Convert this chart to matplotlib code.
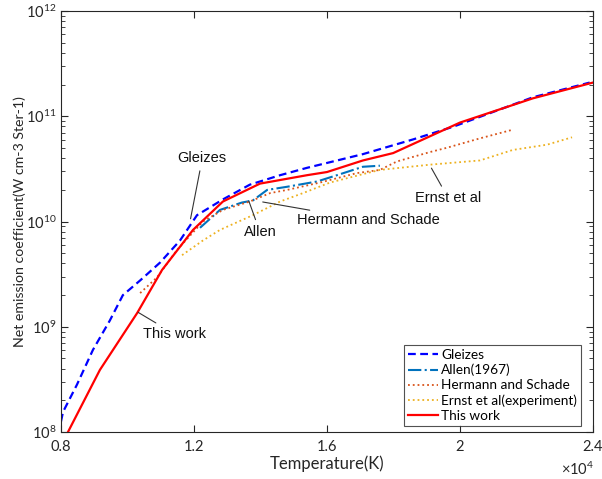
import matplotlib
matplotlib.use('Agg')

import matplotlib.pyplot as plt
import numpy as np
from matplotlib.ticker import LogLocator, NullFormatter

# data (temperature in K, log10 of emission coefficient)
gleizes_T = [8000, 8060, 8480, 8960, 9470, 9860, 10380, 10980, 11580, 12090, 12870,
             13680, 14590, 15400, 17080, 18590, 19790, 20390, 22190, 23900]
gleizes_lg = [8.10, 8.19, 8.45, 8.78, 9.06, 9.30, 9.44, 9.61, 9.82, 10.06, 10.21,
              10.35, 10.44, 10.51, 10.64, 10.78, 10.90, 10.97, 11.18, 11.32]

allen_T = [12180, 12780, 13440, 13770, 14200, 14800, 15700, 16300, 17080, 17590]
allen_lg = [9.94, 10.11, 10.18, 10.20, 10.30, 10.33, 10.38, 10.44, 10.52, 10.53]

hermann_T = [10380, 10890, 11490, 12270, 12870, 13680, 14290, 14800, 15790, 16900,
             17590, 18100, 19100, 19600, 20600, 21560]
hermann_lg = [9.32, 9.47, 9.73, 10.00, 10.11, 10.19, 10.27, 10.30, 10.37, 10.46,
              10.49, 10.57, 10.66, 10.70, 10.79, 10.87]

ernst_T = [11640, 12270, 12780, 13770, 14590, 15280, 16090, 17080, 17590, 19100,
           20600, 21590, 22620, 23370]
ernst_lg = [9.68, 9.82, 9.92, 10.06, 10.19, 10.27, 10.37, 10.45, 10.49, 10.54,
            10.58, 10.68, 10.73, 10.80]

work_T = [8210, 9170, 10290, 11040, 11970, 12870, 13985, 15400, 16000, 17080, 17990,
          20000, 22190, 24000]
work_lg = [8.00, 8.59, 9.13, 9.54, 9.92, 10.19, 10.36, 10.44, 10.47, 10.58, 10.65,
           10.94, 11.17, 11.32]

x_ticks = [8000, 12000, 16000, 20000, 24000]
x_tick_labels = ['0.8', '1.2', '1.6', '2', '2.4']

plt.rcParams['font.family'] = ['Lato', 'DejaVu Sans']
plt.rcParams['mathtext.fontset'] = 'custom'
plt.rcParams['mathtext.rm'] = 'Lato'
plt.rcParams['mathtext.it'] = 'Lato:italic'

fig = plt.figure(figsize=(6.02, 4.79), dpi=100)
ax = fig.add_axes([61 / 602, 1 - 432 / 479, 532 / 602, 421 / 479])

pw = lambda v: 10 ** np.array(v)
ax.plot(gleizes_T, pw(gleizes_lg), '--', color='#0000FF', lw=1.6, label='Gleizes', dashes=(3.5, 2))
ax.plot(allen_T, pw(allen_lg), '-.', color='#0072BD', lw=1.5, label='Allen(1967)')
ax.plot(hermann_T, pw(hermann_lg), ':', color='#D95319', lw=1.3, label='Hermann and Schade')
ax.plot(ernst_T, pw(ernst_lg), ':', color='#EDB120', lw=1.3, label='Ernst et al(experiment)')
ax.plot(work_T, pw(work_lg), '-', color='#FF0000', lw=1.6, label='This work')

ax.set_yscale('log')
ax.set_xlim(8000, 24000)
ax.set_ylim(1e8, 1e12)
ax.set_xticks(x_ticks)
ax.set_xticklabels(x_tick_labels)
ax.yaxis.set_minor_locator(LogLocator(base=10, subs=np.arange(2, 10), numticks=10))
ax.yaxis.set_minor_formatter(NullFormatter())
ax.set_yticks([1e8, 1e9, 1e10, 1e11, 1e12])
ax.set_yticklabels([r'$10^{8}$', r'$10^{9}$', r'$10^{10}$', r'$10^{11}$', r'$10^{12}$'])

ax.tick_params(which='both', direction='in', top=True, right=True, colors='#262626',
               labelsize=10.5, labelcolor='#262626')
ax.tick_params(which='major', length=5)
ax.tick_params(which='minor', length=3)
ax.tick_params(axis='x', pad=6)
for s in ax.spines.values():
    s.set_color('#262626')
    s.set_linewidth(0.8)

ax.set_xlabel('Temperature(K)', fontsize=12, color='#262626', labelpad=1)
ax.set_ylabel('Net emission coefficient(W cm-3 Ster-1)', fontsize=10.2, color='#262626')
ax.yaxis.set_label_coords(-0.066, 0.5)
fig.text(594 / 602, 1 - 469 / 479, r'$\times10^{4}$', ha='right', va='center',
         fontsize=10.5, color='#262626')

# annotations
ann = dict(fontsize=10.5, family=['Liberation Sans', 'DejaVu Sans'], color='#111111')
arrow = dict(arrowstyle='-', color='#333333', lw=0.8)
ax.annotate('Gleizes', xy=(11880, pw(10.0)), xytext=(12250, pw(10.6)), ha='center', va='center',
            arrowprops=arrow, **ann)
ax.annotate('Allen', xy=(13620, pw(10.22)), xytext=(13985, pw(9.9)), ha='center', va='center',
            arrowprops=arrow, **ann)
ax.annotate('Hermann and Schade', xy=(13985, pw(10.19)), xytext=(15100, pw(10.01)), ha='left',
            va='center', arrowprops=arrow, **ann)
ax.annotate('Ernst et al', xy=(19100, pw(10.53)), xytext=(19650, pw(10.22)), ha='center',
            va='center', arrowprops=arrow, **ann)
ax.annotate('This work', xy=(10250, pw(9.15)), xytext=(10470, pw(8.93)), ha='left', va='center',
            arrowprops=arrow, **ann)

leg = ax.legend(loc='lower right', bbox_to_anchor=(0.983, 0.008), fontsize=9.8, frameon=True,
                fancybox=False, edgecolor='#262626', handlelength=2.2, handletextpad=0.25,
                borderpad=0.3, labelspacing=0.22, borderaxespad=0.2)
leg.get_frame().set_linewidth(0.8)

fig.savefig('out.png', dpi=100)
